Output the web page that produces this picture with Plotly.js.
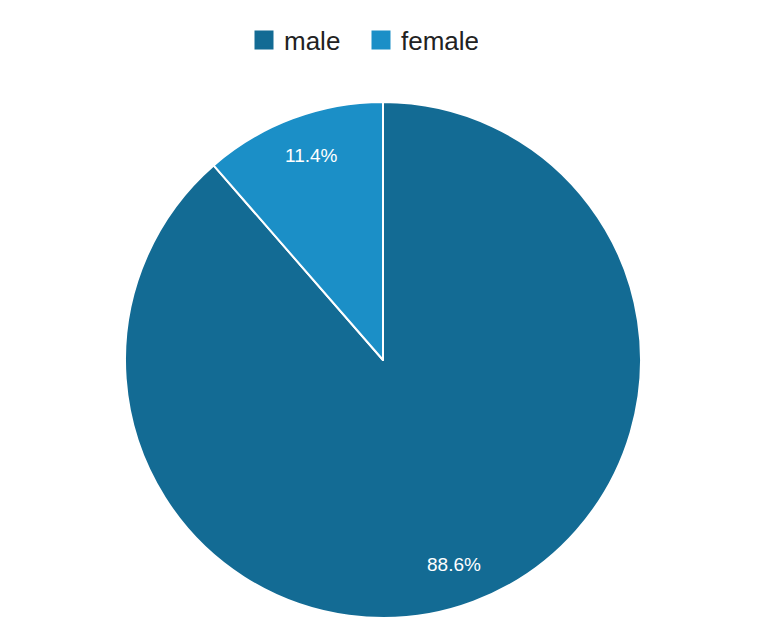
<!DOCTYPE html>
<html>
<head>
<meta charset="utf-8">
<script src="https://cdn.plot.ly/plotly-3.0.1.min.js"></script>
<style>
  html, body { margin: 0; padding: 0; background: #fff; }
  #chart { width: 776px; height: 642px; }
</style>
</head>
<body>
<div id="chart"></div>
<script>
  // genre des participants
  const labels = ['male', 'female'];
  const values = [88.6, 11.4];
  const colors = ['#136b94', '#1b8fc7'];

  const W = 776, H = 642;
  const M = { t: 102, b: 24, l: 0, r: 10 };
  const FONT = 'Liberation Sans, Arial, sans-serif';

  // part principale : le camembert, sans légende (légende faite à part)
  const pie = {
    type: 'pie',
    labels: labels,
    values: values,
    sort: false,
    direction: 'clockwise',
    rotation: 0,
    marker: { colors: colors, line: { color: '#ffffff', width: 2 } },
    textinfo: 'none',
    showlegend: false,
    hoverinfo: 'label+percent'
  };

  // traces fantômes pour avoir des carrés plus gros dans la légende
  const legendTraces = labels.map((l, i) => ({
    type: 'scatter', mode: 'markers',
    x: [null], y: [null],
    name: l,
    marker: { symbol: 'square', size: 16, color: colors[i], line: { color: colors[i], width: 3 } },
    hoverinfo: 'skip'
  }));

  // étiquettes de pourcentage placées sur l'angle moyen de chaque part
  const total = values.reduce((a, b) => a + b, 0);
  const plotW = W - M.l - M.r, plotH = H - M.t - M.b;
  const R = Math.min(plotW, plotH) / 2;
  let cum = 0;
  const annotations = values.map(v => {
    const mid = (cum + v / 2) / total * 2 * Math.PI; // sens horaire depuis midi
    cum += v;
    const r = 0.845 * R;
    return {
      xref: 'paper', yref: 'paper',
      x: 0.5 + r * Math.sin(mid) * 0.93 / plotW,
      y: 0.5 + r * Math.cos(mid) / plotH,
      text: (v / total * 100).toFixed(1) + '%',
      showarrow: false,
      xanchor: 'center', yanchor: 'middle',
      font: { family: FONT, size: 19, color: '#ffffff' }
    };
  });

  const layout = {
    width: W,
    height: H,
    margin: M,
    paper_bgcolor: '#ffffff',
    plot_bgcolor: 'rgba(0,0,0,0)',
    font: { family: FONT, color: '#222' },
    xaxis: { visible: false },
    yaxis: { visible: false },
    showlegend: true,
    annotations: annotations,
    legend: {
      orientation: 'h',
      x: 0.5 - 22 / plotW, xanchor: 'center',
      yref: 'container', y: 1 - 40 / H, yanchor: 'middle',
      font: { size: 26, color: '#222' },
      itemwidth: 30,
      entrywidth: 72,
      entrywidthmode: 'pixels'
    }
  };

  Plotly.newPlot('chart', [pie].concat(legendTraces), layout, { displayModeBar: false, staticPlot: true });
</script>
</body>
</html>
